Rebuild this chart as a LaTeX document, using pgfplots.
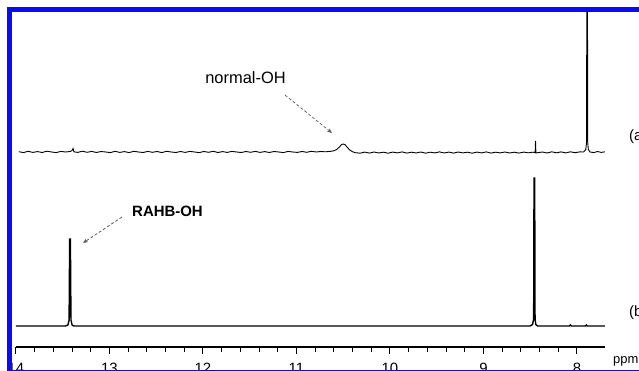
\documentclass[border=0pt]{standalone}
\usepackage{pgfplots}
\pgfplotsset{compat=1.18}
\usepackage{fontspec}
\setmainfont{Liberation Sans}
\usetikzlibrary{arrows.meta}
\definecolor{frameblue}{RGB}{10,10,245}
\newcommand{\px}[2]{({(#1)*1bp},{(371-(#2))*1bp})}
\begin{document}
\begin{tikzpicture}
\useasboundingbox (0,0) rectangle (639bp,371bp);
\clip (0,0) rectangle (639bp,371bp);
\fill[white] (0,0) rectangle (639bp,371bp);
\begin{axis}[
  at={(16bp,24bp)}, anchor=south west,
  scale only axis, width=589bp, height=335bp,
  x dir=reverse, xmin=7.70, xmax=14.0, ymin=0, ymax=335,
  axis x line*=bottom, axis y line=none,
  axis line style={line width=1.3bp, -},
  xtick={8,9,10,11,12,13,14},
  minor x tick num=4,
  tick align=outside,
  major tick length=6.5bp, minor tick length=4.5bp,
  every tick/.style={black, line width=1bp},
  xticklabel style={font=\fontsize{15}{15}\selectfont, yshift=-6.5bp},
  /pgf/number format/assume math mode=true,
  clip=true,
]
% (b) spectrum
\addplot[black, line width=1.4bp] coordinates {
(14.0,21) (13.47,21) (13.445,22) (13.432,27) (13.426,108) (13.418,108) (13.412,27) (13.40,22) (13.38,21)
(11.0,21) (9.0,21) (8.50,21) (8.475,22.5) (8.463,28) (8.459,169) (8.452,169) (8.448,28) (8.44,22.5) (8.42,21)
(8.08,21) (8.07,22) (8.06,21) (7.91,21) (7.90,22) (7.89,21) (7.70,21)
};
% (a) spectrum
\addplot[black, line width=0.9bp] coordinates {
(13.97,195.3) (13.92,194.4) (13.87,195.7) (13.82,194.6) (13.77,195.4) (13.72,194.5)
(13.67,195.8) (13.62,195.0) (13.57,194.4) (13.52,195.6) (13.47,195.0) (13.42,195.5)
(13.40,196.5) (13.39,198.5) (13.38,195.2) (13.34,194.6) (13.29,195.8) (13.24,194.7)
(13.19,195.6) (13.14,194.5) (13.09,195.5) (13.04,195.0) (12.99,194.4) (12.94,195.7)
(12.89,194.6) (12.84,195.4) (12.79,194.4) (12.74,195.7) (12.69,195.0) (12.64,194.5)
(12.59,195.6) (12.54,194.7) (12.49,195.5) (12.44,194.4) (12.39,195.7) (12.34,195.0)
(12.29,194.5) (12.24,195.5) (12.19,194.6) (12.14,195.6) (12.09,195.0) (12.04,194.4)
(11.99,195.5) (11.94,194.7) (11.89,195.7) (11.84,194.5) (11.79,195.4) (11.74,194.6)
(11.69,195.6) (11.64,195.0) (11.59,194.5) (11.54,195.5) (11.49,194.7) (11.44,195.6)
(11.39,194.6) (11.34,195.4) (11.29,194.5) (11.24,195.5) (11.19,195.0) (11.14,194.4)
(11.09,195.6) (11.04,195.0) (10.99,194.6) (10.94,195.5) (10.89,194.7) (10.84,195.7)
(10.79,195.0) (10.74,195.5) (10.69,195.2) (10.64,195.6) (10.60,196.2) (10.57,197.5)
(10.54,200.0) (10.52,202.3) (10.50,203.0) (10.48,202.3) (10.46,200.0) (10.43,197.0)
(10.40,195.2) (10.37,194.3) (10.32,193.8) (10.27,194.9) (10.22,193.9) (10.17,195.0)
(10.12,194.0) (10.07,194.8) (10.02,193.8) (9.97,194.9) (9.92,194.1) (9.87,195.1)
(9.82,193.9) (9.77,194.8) (9.72,194.0) (9.67,195.0) (9.62,193.8) (9.57,194.8)
(9.52,194.1) (9.47,195.1) (9.42,194.0) (9.37,194.9) (9.32,193.9) (9.27,195.0)
(9.22,194.1) (9.17,194.8) (9.12,193.8) (9.07,194.9) (9.02,194.1) (8.97,195.1)
(8.92,193.9) (8.87,194.8) (8.82,194.1) (8.77,195.0) (8.72,194.0) (8.67,194.8)
(8.62,193.9) (8.57,194.9) (8.52,194.2) (8.47,194.8) (8.447,194.5) (8.443,206.0)
(8.439,194.0) (8.42,194.3) (8.37,195.0) (8.32,194.0) (8.27,195.2) (8.22,194.2)
(8.17,195.1) (8.12,194.1) (8.07,195.2) (8.02,194.3) (7.97,195.1) (7.93,195.0)
(7.905,197.5) (7.897,205) (7.894,400) (7.888,400) (7.885,205) (7.878,197.5)
(7.86,195.0) (7.82,194.4) (7.78,195.5) (7.74,194.6) (7.70,195.2)
};
\end{axis}
% labels
\node[anchor=base west, inner sep=0, font=\fontsize{13}{13}\selectfont] at \px{613}{363} {ppm};
\node[anchor=west, inner sep=0, font=\fontsize{15}{15}\selectfont] at \px{629}{137} {(a)};
\node[anchor=west, inner sep=0, font=\fontsize{15}{15}\selectfont] at \px{629}{313} {(b)};
% annotations
\node[inner sep=0, font=\fontsize{16.5}{16.5}\selectfont] at \px{245.5}{78} {normal-OH};
\node[inner sep=0, font=\bfseries\fontsize{15}{15}\selectfont] at \px{167.5}{211} {RAHB-OH};
\draw[gray!70!black, line width=0.7bp, densely dashed, -{Stealth[length=5bp,width=4bp]}] \px{285}{95} -- \px{332}{133};
\draw[gray!70!black, line width=0.7bp, densely dashed, -{Stealth[length=5bp,width=4bp]}] \px{122}{217} -- \px{83}{243};
% blue frame
\draw[frameblue, line width=5bp] \px{9.5}{373} -- \px{9.5}{10} -- \px{700}{10};
\draw[frameblue, line width=3.5bp] \px{9.5}{372} -- \px{700}{372};
\end{tikzpicture}
\end{document}
